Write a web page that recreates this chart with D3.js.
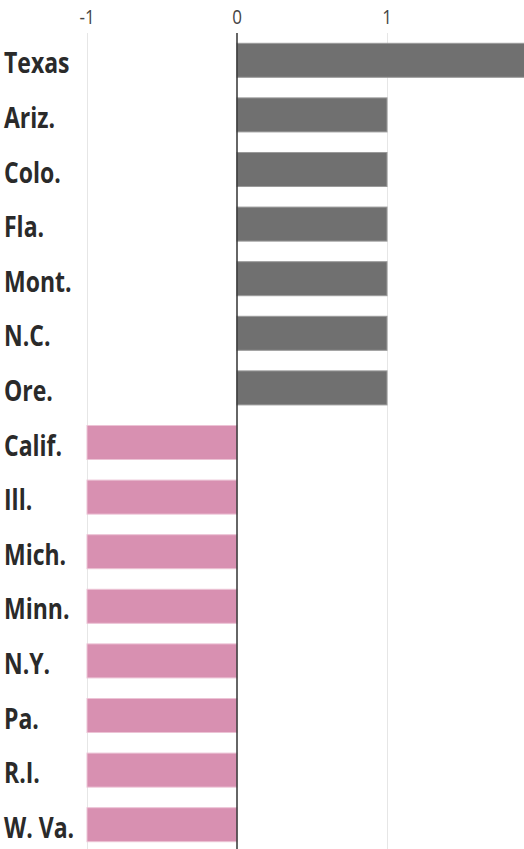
<!DOCTYPE html>
<html>
<head>
<meta charset="utf-8">
<script src="https://cdn.jsdelivr.net/npm/d3@7"></script>
<style>
  body { margin: 0; background: #fff; }
  svg { display: block; }
</style>
</head>
<body>
<svg width="524" height="849"></svg>
<script>
const states = ["Texas", "Ariz.", "Colo.", "Fla.", "Mont.", "N.C.", "Ore.",
  "Calif.", "Ill.", "Mich.", "Minn.", "N.Y.", "Pa.", "R.I.", "W. Va."];
const seatChange = [2, 1, 1, 1, 1, 1, 1, -1, -1, -1, -1, -1, -1, -1, -1];
const tickValues = [-1, 0, 1];

const svg = d3.select("svg");
const width = +svg.attr("width");
const height = +svg.attr("height");

const data = states.map((s, i) => ({ state: s, value: seatChange[i] }));

const x = d3.scaleLinear().domain([-1, 1]).range([87, 387]);
const y = d3.scaleBand()
  .domain(states)
  .range([33, 33 + states.length * 54.6])
  .paddingInner(0.377)
  .paddingOuter(0.1885);

// gridlines
svg.append("g")
  .selectAll("line")
  .data(tickValues.filter((d) => d !== 0))
  .enter()
  .append("line")
  .attr("x1", (d) => x(d) + 0.5)
  .attr("x2", (d) => x(d) + 0.5)
  .attr("y1", 33)
  .attr("y2", height)
  .attr("stroke", "#e6e6e6")
  .attr("stroke-width", 1);

// tick labels (the source font is tall and narrow, so stretch a little)
svg.append("g")
  .selectAll("text")
  .data(tickValues)
  .enter()
  .append("text")
  .attr("transform", (d) => `translate(${x(d)},24) scale(1,1.15)`)
  .attr("text-anchor", "middle")
  .attr("fill", "#444")
  .attr("font-family", "'Open Sans', sans-serif")
  .attr("font-size", 17)
  .text((d) => (d < 0 ? "-" + Math.abs(d) : d));

// bars
svg.append("g")
  .selectAll("rect")
  .data(data)
  .enter()
  .append("rect")
  .attr("x", (d) => x(Math.min(0, d.value)))
  .attr("y", (d) => y(d.state))
  .attr("width", (d) => Math.abs(x(d.value) - x(0)))
  .attr("height", y.bandwidth())
  .attr("fill", (d) => (d.value > 0 ? "#707070" : "#d890b1"))
  .attr("stroke", (d) => (d.value > 0 ? "#9a9a9a" : "#ecc3d5"))
  .attr("stroke-width", 1);

// zero line
svg.append("line")
  .attr("x1", x(0))
  .attr("x2", x(0))
  .attr("y1", 33)
  .attr("y2", height)
  .attr("stroke", "#333")
  .attr("stroke-width", 1.5);

// state labels
svg.append("g")
  .selectAll("text")
  .data(data)
  .enter()
  .append("text")
  .attr("transform", (d) => `translate(4,${y(d.state) + y.bandwidth() / 2 + 13}) scale(1,1.22)`)
  .attr("font-family", "'Open Sans', sans-serif")
  .attr("font-weight", "bold")
  .attr("font-size", 23)
  .attr("fill", "#2a2a2a")
  .text((d) => d.state);
</script>
</body>
</html>
